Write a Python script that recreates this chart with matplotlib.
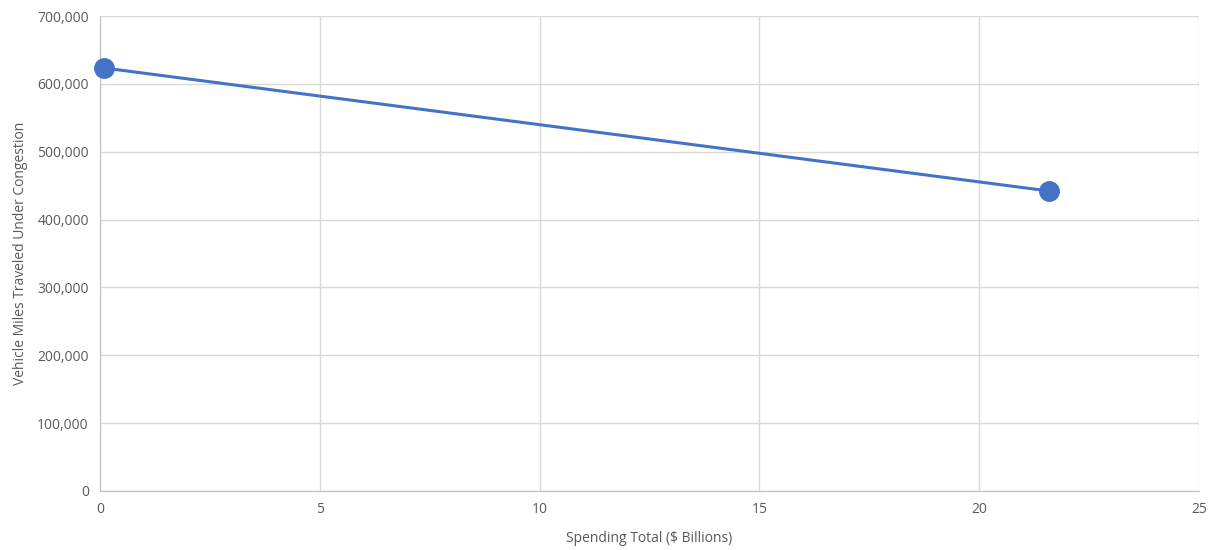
import matplotlib
matplotlib.use("Agg")
import matplotlib.pyplot as plt
from matplotlib.ticker import FuncFormatter

# spending (billions) vs congested vehicle miles
spending = [0.09, 21.59]
vmt = [623400, 442100]

x_ticks = [0, 5, 10, 15, 20, 25]
y_ticks = [0, 100000, 200000, 300000, 400000, 500000, 600000, 700000]

plt.rcParams['font.family'] = ['Open Sans', 'DejaVu Sans']

fig = plt.figure(figsize=(12.17, 5.5), dpi=100)
ax = fig.add_axes([100 / 1217, 59 / 550, 1099 / 1217, 475 / 550])

ax.plot(spending, vmt, color="#4472c4", linewidth=2.2, marker="o",
        markersize=14, zorder=3, clip_on=False)

ax.set_xlim(0, 25)
ax.set_ylim(0, 700000)
ax.set_xticks(x_ticks)
ax.set_yticks(y_ticks)
ax.yaxis.set_major_formatter(FuncFormatter(lambda v, p: f"{int(v):,}"))

#gridlines and frame
ax.grid(True, color="#d9d9d9", linewidth=1)
ax.set_axisbelow(True)
for side in ["top", "right"]:
    ax.spines[side].set_visible(False)
for side in ["left", "bottom"]:
    ax.spines[side].set_color("#bfbfbf")
ax.tick_params(length=0, labelsize=10, labelcolor="#595959", pad=8)

ax.set_xlabel("Spending Total ($ Billions)", fontsize=10, color="#595959", labelpad=10)
ax.set_ylabel("Vehicle Miles Traveled Under Congestion", fontsize=10, color="#595959", labelpad=7)

plt.savefig("out.png", dpi=100)
